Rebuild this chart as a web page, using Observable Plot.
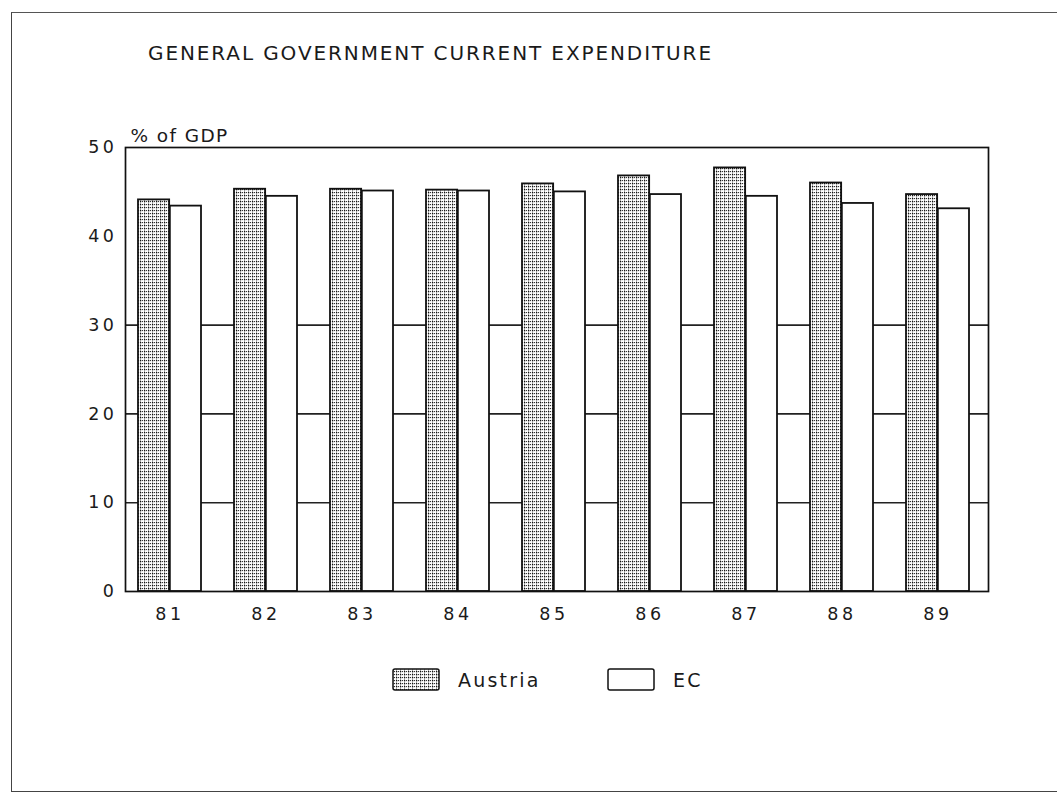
<!DOCTYPE html>
<html>
<head>
<meta charset="utf-8">
<script src="https://cdn.jsdelivr.net/npm/d3@7"></script>
<script src="https://cdn.jsdelivr.net/npm/@observablehq/plot@0.6"></script>
<style>
  html, body { margin: 0; padding: 0; background: #fff; }
  body { width: 1057px; height: 793px; position: relative; overflow: hidden; font-family: "DejaVu Sans", sans-serif; color: #1a1a1a; }
  #page { position: absolute; left: 11px; top: 12px; width: 1070px; height: 778px; border-left: 1.5px solid #444; border-top: 1.5px solid #555; border-bottom: 1.5px solid #444; }
  #title { position: absolute; left: 148px; top: 41px; font-size: 20px; letter-spacing: 1.9px; white-space: nowrap; }
  #chart { position: absolute; left: 0; top: 0; }
  #legend { position: absolute; left: 0; top: 668px; width: 1057px; height: 30px; }
  .item { position: absolute; top: 0; display: flex; align-items: center; font-size: 19px; letter-spacing: 2.2px; }
  .item svg { margin-right: 18px; }
</style>
</head>
<body>
<svg width="0" height="0" style="position:absolute">
  <defs>
    <pattern id="aus" patternUnits="userSpaceOnUse" width="4" height="3">
      <rect width="4" height="3" fill="#fff"></rect>
      <rect x="0" y="0" width="1.3" height="1.3" fill="#111"></rect>
      <rect x="2" y="0" width="1.1" height="1.1" fill="#333"></rect>
      <rect x="0" y="1.3" width="0.8" height="1.7" fill="#888"></rect>
    </pattern>
  </defs>
</svg>
<div id="page"></div>
<div id="title">GENERAL GOVERNMENT CURRENT EXPENDITURE</div>
<div id="chart"></div>
<div id="legend"></div>
<script>
// ---- data ----
const years = ["81", "82", "83", "84", "85", "86", "87", "88", "89"];
const series = ["Austria", "EC"];
const austria = [44.1, 45.3, 45.3, 45.2, 45.9, 46.8, 47.7, 46.0, 44.7];
const ec = [43.4, 44.5, 45.1, 45.1, 45.0, 44.7, 44.5, 43.7, 43.1];
const yTicks = [0, 10, 20, 30, 40, 50];
const gridValues = [10, 20, 30];
const yLabel = "% of GDP";

const rows = [];
years.forEach((y, i) => {
  rows.push({year: y, series: "Austria", value: austria[i]});
  rows.push({year: y, series: "EC", value: ec[i]});
});

const W = 1057, mL = 125, mR = 69, mT = 147, mB = 40, H = 147 + 444 + 40;
const padIn = 0.34, padOut = 0.141, align = 0.4;
const band = d3.scaleBand(years, [mL, W - mR]).paddingInner(padIn).paddingOuter(padOut).align(align);
const half = band.bandwidth() / 2;

const chart = Plot.plot({
  width: W,
  height: H,
  marginLeft: mL,
  marginRight: mR,
  marginTop: mT,
  marginBottom: mB,
  style: {fontFamily: "DejaVu Sans, sans-serif", fontSize: "17.5px", color: "#1a1a1a", background: "transparent", letterSpacing: "3.5px"},
  x: {type: "band", domain: years, paddingInner: padIn, paddingOuter: padOut, align: align, tickSize: 0, tickPadding: 16, label: null},
  y: {domain: [0, 50], ticks: yTicks, tickSize: 0, tickPadding: 8, label: null},
  color: {domain: series, range: ["url(#aus)", "#fff"]},
  marks: [
    Plot.ruleY(gridValues, {stroke: "#222", strokeWidth: 1.6}),
    Plot.barY(rows.filter(d => d.series === "Austria"), {x: "year", y: "value", fill: "series", stroke: "#111", strokeWidth: 1.8, insetRight: half}),
    Plot.barY(rows.filter(d => d.series === "EC"), {x: "year", y: "value", fill: "series", stroke: "#111", strokeWidth: 1.8, insetLeft: half}),
    Plot.frame({stroke: "#111", strokeWidth: 1.7}),
    Plot.text([yLabel], {frameAnchor: "top-left", dx: 5, dy: -19, textAnchor: "start", fontSize: 18.5})
  ]
});
d3.select(chart).selectAll("text").filter(function() { return this.textContent === yLabel; }).style("letter-spacing", "1.4px");
document.getElementById("chart").appendChild(chart);

// legend
const legend = document.getElementById("legend");
const legendX = {"Austria": 392, "EC": 607};
series.forEach(s => {
  const item = document.createElement("div");
  item.className = "item";
  item.style.left = legendX[s] + "px";
  const sw = d3.create("svg").attr("width", 48).attr("height", 24);
  sw.append("rect").attr("x", 1).attr("y", 1).attr("width", 46).attr("height", 21).attr("rx", 2)
    .attr("fill", chart.scale("color").apply(s)).attr("stroke", "#111").attr("stroke-width", 1.5);
  item.appendChild(sw.node());
  const t = document.createElement("span");
  t.textContent = s;
  item.appendChild(t);
  legend.appendChild(item);
});
</script>
</body>
</html>
